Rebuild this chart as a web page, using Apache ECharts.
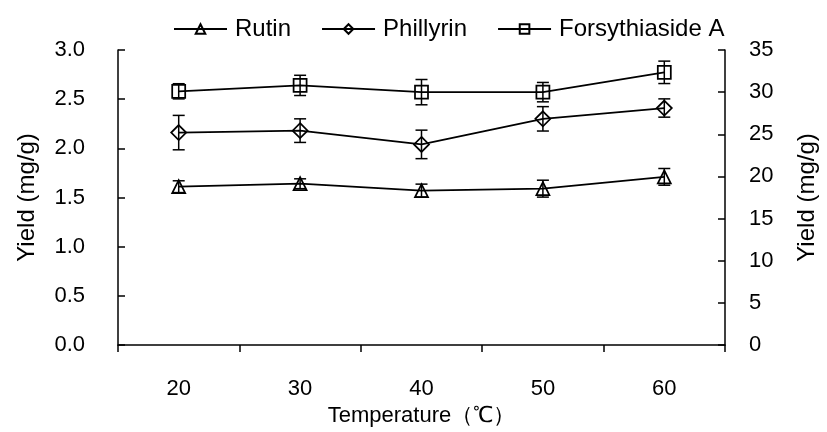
<!DOCTYPE html>
<html>
<head>
<meta charset="utf-8">
<script src="https://cdn.jsdelivr.net/npm/echarts@6/dist/echarts.min.js"></script>
<style>html,body{margin:0;padding:0;background:#fff}#c{width:827px;height:432px}</style>
</head>
<body>
<div id="c"></div>
<script>
const categories = ['20', '30', '40', '50', '60'];
const rutin = [1.61, 1.64, 1.57, 1.59, 1.71];
const rutinErr = [0.06, 0.05, 0.066, 0.086, 0.085];
const phillyrin = [2.16, 2.18, 2.04, 2.30, 2.41];
const phillyrinErr = [0.175, 0.12, 0.145, 0.124, 0.093];
const forsythiaside = [30.1, 30.8, 30.0, 30.0, 32.35];
const forsythiasideErr = [0.9, 1.2, 1.5, 1.15, 1.33];
const leftTicks = {min: 0, max: 3, interval: 0.5};
const rightTicks = {min: 0, max: 35, interval: 5};

const FONT = 'Liberation Sans, Arial, sans-serif';
const FS = 22;
const FT = 24;

function errData(vals, errs) {
  return vals.map((v, i) => [i, v - errs[i], v + errs[i]]);
}
function errRender(params, api) {
  const x = api.value(0);
  const lo = api.coord([x, api.value(1)]);
  const hi = api.coord([x, api.value(2)]);
  const w = 6;
  const st = {stroke: '#000', lineWidth: 1.5};
  return {
    type: 'group',
    children: [
      {type: 'line', shape: {x1: lo[0], y1: lo[1], x2: hi[0], y2: hi[1]}, style: st},
      {type: 'line', shape: {x1: lo[0] - w, y1: lo[1], x2: lo[0] + w, y2: lo[1]}, style: st},
      {type: 'line', shape: {x1: hi[0] - w, y1: hi[1], x2: hi[0] + w, y2: hi[1]}, style: st}
    ]
  };
}
function lineSeries(name, data, symbol, size, yIdx) {
  return {
    name: name, type: 'line', data: data, yAxisIndex: yIdx,
    symbol: symbol, symbolSize: size, showAllSymbol: true,
    lineStyle: {color: '#000', width: 1.75},
    itemStyle: {color: 'rgba(255,255,255,0)', borderColor: '#000', borderWidth: 1.75},
    emphasis: {disabled: true}, z: 3
  };
}
function errSeries(name, vals, errs, yIdx) {
  return {
    name: name, type: 'custom', yAxisIndex: yIdx,
    data: errData(vals, errs), renderItem: errRender,
    encode: {x: 0, y: [1, 2]}, z: 2, silent: true
  };
}

const chart = echarts.init(document.getElementById('c'));
chart.setOption({
  animation: false,
  backgroundColor: '#fff',
  textStyle: {fontFamily: FONT, color: '#000'},
  grid: {left: 118, right: 94, top: 50, bottom: 87},
  legend: {
    data: ['Rutin', 'Phillyrin', 'Forsythiaside A'],
    top: 12, left: 168,
    itemWidth: 53, itemHeight: 12, itemGap: 30,
    textStyle: {fontFamily: FONT, fontSize: FT, color: '#000', padding: [0, 0, 0, 3]}
  },
  xAxis: {
    type: 'category', data: categories, boundaryGap: true,
    name: 'Temperature（℃）', nameLocation: 'middle', nameGap: 54,
    nameTextStyle: {fontFamily: FONT, fontSize: FS, color: '#000'},
    axisLine: {lineStyle: {color: '#000', width: 1.5}},
    axisTick: {show: true, alignWithLabel: false, inside: false, length: 7, lineStyle: {color: '#000', width: 1.5}},
    axisLabel: {fontFamily: FONT, fontSize: FS, color: '#000', margin: 33},
    splitLine: {show: false}
  },
  yAxis: [
    {
      type: 'value', min: leftTicks.min, max: leftTicks.max, interval: leftTicks.interval,
      name: 'Yield (mg/g)', nameLocation: 'middle', nameGap: 79, nameRotate: 90,
      nameTextStyle: {fontFamily: FONT, fontSize: FT, color: '#000'},
      axisLine: {show: true, lineStyle: {color: '#000', width: 1.5}},
      axisTick: {show: true, inside: true, length: 7, lineStyle: {color: '#000', width: 1.5}},
      axisLabel: {fontFamily: FONT, fontSize: FS, color: '#000', margin: 33, formatter: v => v.toFixed(1)},
      splitLine: {show: false}
    },
    {
      type: 'value', min: rightTicks.min, max: rightTicks.max, interval: rightTicks.interval,
      position: 'right',
      name: 'Yield (mg/g)', nameLocation: 'middle', nameGap: 70, nameRotate: 90,
      nameTextStyle: {fontFamily: FONT, fontSize: FT, color: '#000'},
      axisLine: {show: true, lineStyle: {color: '#000', width: 1.5}},
      axisTick: {show: true, inside: true, length: 7, lineStyle: {color: '#000', width: 1.5}},
      axisLabel: {fontFamily: FONT, fontSize: FS, color: '#000', margin: 24},
      splitLine: {show: false}
    }
  ],
  series: [
    errSeries('Rutin err', rutin, rutinErr, 0),
    errSeries('Phillyrin err', phillyrin, phillyrinErr, 0),
    errSeries('Forsythiaside A err', forsythiaside, forsythiasideErr, 1),
    lineSeries('Rutin', rutin, 'triangle', 13, 0),
    lineSeries('Phillyrin', phillyrin, 'diamond', 15, 0),
    lineSeries('Forsythiaside A', forsythiaside, 'rect', 13, 1)
  ]
});
</script>
</body>
</html>
